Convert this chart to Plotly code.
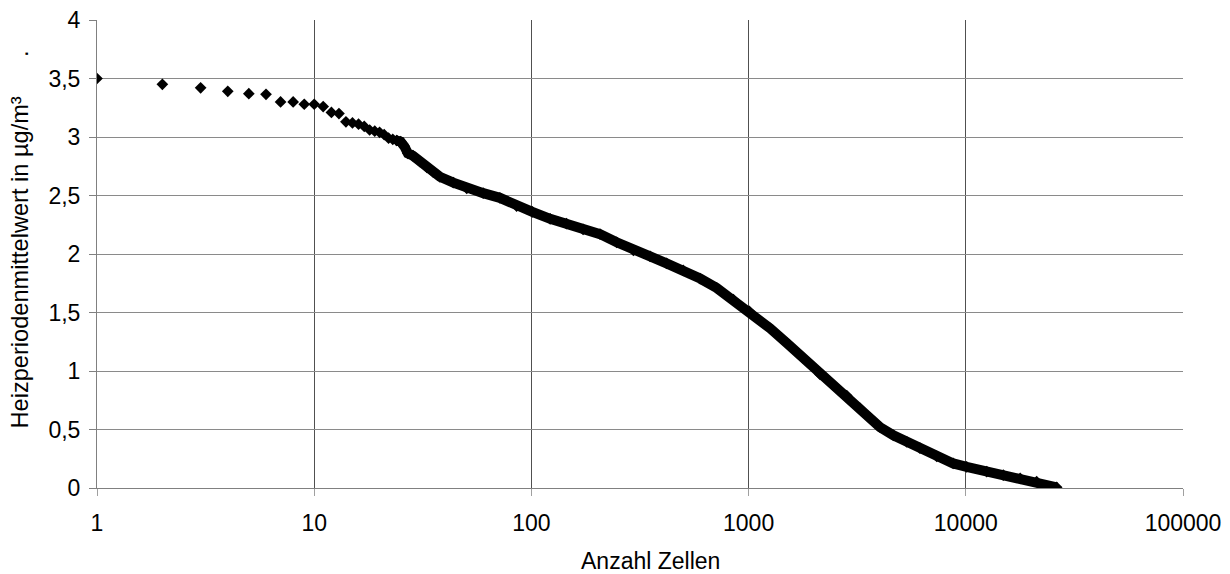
import plotly.graph_objects as go

# ---- Daten ----
# Einzelpunkte (Rang 1..24)
rank_single = list(range(1, 25))
val_single = [3.50, 3.45, 3.42, 3.39, 3.37, 3.365, 3.30, 3.30, 3.28, 3.28,
              3.26, 3.21, 3.20, 3.13, 3.12, 3.11, 3.09, 3.06, 3.05, 3.04,
              3.02, 2.99, 2.98, 2.97]

# dichter Bereich (Punkte liegen so eng, dass sie ein Band bilden)
rank_dense = [24, 25, 26, 27, 28.5, 30.7, 33, 35.3, 37.9, 43.7, 50.4, 60,
              71.6, 85.5, 101, 122, 145, 173, 207, 247, 295, 352, 419, 500,
              598, 713, 851, 1008, 1256, 1498, 1786, 2133, 2455, 2830, 3260,
              3625, 4030, 4640, 5350, 6150, 7350, 8750, 10090, 12480, 14880,
              17800, 21200, 26200]
val_dense = [2.97, 2.96, 2.92, 2.86, 2.84, 2.79, 2.74, 2.70, 2.66, 2.61, 2.56,
             2.52, 2.48, 2.41, 2.36, 2.30, 2.26, 2.21, 2.17, 2.10, 2.03, 1.98,
             1.92, 1.86, 1.79, 1.71, 1.61, 1.51, 1.365, 1.24, 1.11, 0.97, 0.88,
             0.79, 0.68, 0.60, 0.52, 0.45, 0.395, 0.34, 0.27, 0.21, 0.18, 0.14,
             0.11, 0.083, 0.054, 0.006]

x_tickvals = [1, 10, 100, 1000, 10000, 100000]
x_ticktext = ["1", "10", "100", "1000", "10000", "100000"]

FONT = "Liberation Sans, Arial, sans-serif"
FS = 23

fig = go.Figure()

fig.add_trace(go.Scatter(
    x=rank_dense, y=val_dense,
    mode="lines+markers",
    line=dict(color="black", width=10),
    marker=dict(symbol="diamond", size=9, color="black"),
    showlegend=False,
))

fig.add_trace(go.Scatter(
    x=rank_single, y=val_single,
    mode="markers",
    marker=dict(symbol="diamond", size=9, color="black"),
    showlegend=False,
))

fig.update_layout(
    width=1230, height=574,
    paper_bgcolor="white", plot_bgcolor="white",
    separators=",.",
    font=dict(family=FONT, size=FS, color="black"),
    margin=dict(l=97, r=47, t=20, b=86),
    showlegend=False,
    annotations=[
        dict(text="Heizperiodenmittelwert in µg/m³" + "\u00a0" * 6 + ".",
             textangle=-90, xref="paper", yref="paper",
             x=-0.0709, y=0.531, xanchor="center", yanchor="middle",
             showarrow=False, font=dict(size=23.6)),
        dict(text="Anzahl Zellen", xref="paper", yref="paper",
             x=0.5097, y=-0.156, xanchor="center", yanchor="middle",
             showarrow=False, font=dict(size=FS)),
    ],
)

fig.update_xaxes(
    type="log",
    range=[0, 5],
    tickmode="array",
    tickvals=x_tickvals,
    ticktext=x_ticktext,
    ticks="outside", ticklen=7, tickcolor="#a0a0a0",
    ticklabelstandoff=7,
    showgrid=True, gridcolor="#505050", gridwidth=1,
    showline=True, linecolor="#808080", linewidth=1,
    zeroline=False,
    automargin=False,
)

fig.update_yaxes(
    range=[0, 4],
    dtick=0.5,
    ticks="outside", ticklen=7, tickcolor="#808080",
    ticklabelstandoff=4,
    showgrid=True, gridcolor="#8a8a8a", gridwidth=1,
    showline=True, linecolor="#808080", linewidth=1,
    zeroline=False,
    automargin=False,
)

# body-Rand entfernen, damit die Figur genau ins Fenster passt
fig.write_html("out.html", config={"displayModeBar": False},
               post_script="document.body.style.margin='0';")
